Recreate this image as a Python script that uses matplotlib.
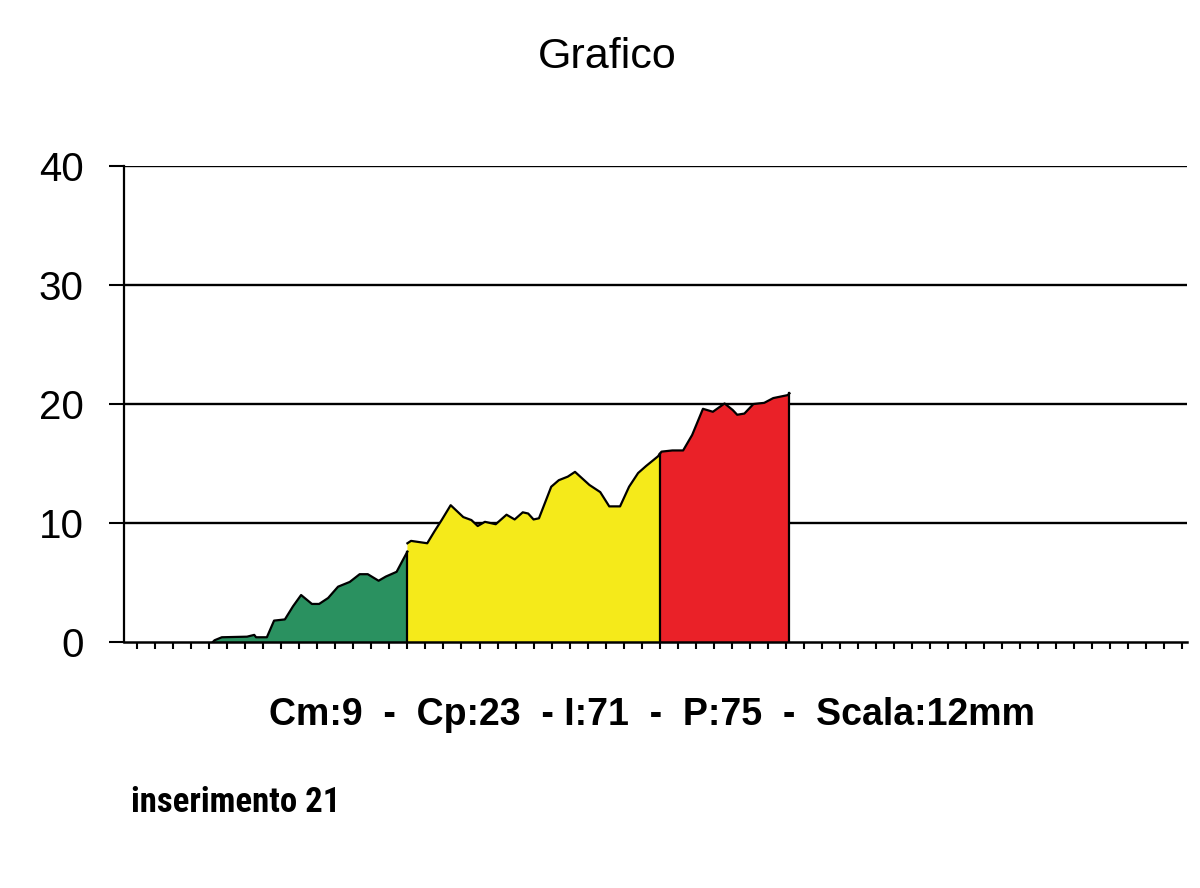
import matplotlib
matplotlib.use("Agg")
import matplotlib.pyplot as plt
import numpy as np

# profile, x in tick units, y in chart units
green_x = [4.2, 4.3, 4.7, 6.1, 6.5, 6.6, 7.2, 7.6, 8.2, 8.65, 9.1, 9.7, 10.1,
           10.6, 11.15, 11.8, 12.35, 12.8, 13.4, 13.8, 14.4, 14.75, 15.0]
green_y = [0.0, 0.15, 0.4, 0.45, 0.6, 0.4, 0.4, 1.8, 1.9, 3.0, 3.95, 3.2, 3.2,
           3.7, 4.65, 5.05, 5.7, 5.7, 5.15, 5.5, 5.9, 6.9, 7.6]

yellow_x = [15.0, 15.2, 16.1, 16.5, 16.9, 17.4, 18.1, 18.55, 18.9, 19.3, 19.9,
            20.5, 20.95, 21.4, 21.7, 22.0, 22.3, 22.98, 23.4, 23.9, 24.3, 25.1,
            25.7, 26.2, 26.8, 27.3, 27.8, 28.25, 28.9, 29.0]
yellow_y = [8.3, 8.5, 8.3, 9.3, 10.25, 11.5, 10.5, 10.25, 9.75, 10.1, 9.9,
            10.7, 10.3, 10.9, 10.8, 10.3, 10.4, 13.05, 13.6, 13.9, 14.3, 13.2,
            12.6, 11.4, 11.4, 13.05, 14.2, 14.8, 15.6, 15.8]

red_x = [29.0, 29.1, 29.7, 30.3, 30.8, 31.4, 31.95, 32.6, 33.05, 33.3, 33.7,
         34.2, 34.8, 35.3, 36.1, 36.2]
red_y = [15.8, 16.0, 16.1, 16.1, 17.4, 19.6, 19.35, 20.05, 19.5, 19.1, 19.2,
         20.0, 20.1, 20.5, 20.75, 20.9]

y_ticks = [0, 10, 20, 30, 40]
n_xticks = 59

title = "Grafico"
info = "Cm:9  -  Cp:23  - I:71  -  P:75  -  Scala:12mm"
note = "inserimento 21"

plt.rcParams["font.family"] = ["Liberation Sans", "DejaVu Sans"]

fig = plt.figure(figsize=(12, 8.88), dpi=100)
ax = fig.add_axes([0.1033, 0.277, 0.8857, 0.536])

segments = [(green_x, green_y, "#2a9160"),
            (yellow_x, yellow_y, "#f5ea1a"),
            (red_x, red_y, "#ea2128")]
for xs, ys, col in segments:
    ax.fill_between(xs, 0, ys, facecolor=col, edgecolor="none", zorder=3)
    ax.plot(xs, ys, color="black", linewidth=1.6, zorder=4)
    ax.plot([xs[-1], xs[-1]], [0, ys[-1]], color="black", linewidth=1.6, zorder=4)

for y in y_ticks[1:]:
    ax.axhline(y, color="black", linewidth=1.7, zorder=1)

ax.set_xlim(-0.73, 58.25)
ax.set_ylim(0, 40)
ax.set_yticks(y_ticks)
ax.set_xticks(np.arange(n_xticks))
ax.set_xticklabels([])
ax.tick_params(axis="y", direction="out", length=11, width=1.5, pad=18,
               labelsize=29)
ax.tick_params(axis="x", direction="out", length=5, width=1.5)
for s in ["top", "right"]:
    ax.spines[s].set_visible(False)
ax.spines["left"].set_linewidth(1.6)
ax.spines["bottom"].set_linewidth(1.8)
ax.spines["bottom"].set_zorder(5)

fig.text(0.506, 0.936, title, ha="center", va="center", fontsize=31)
fig.text(0.543, 0.195, info, ha="center", va="center", fontsize=27,
         weight="bold")
fig.text(0.109, 0.096, note, ha="left", va="center", fontsize=25,
         weight="bold",
         family=["Liberation Sans Narrow", "Roboto Condensed", "Roboto",
                 "Liberation Sans"])

fig.savefig("out.png", dpi=100, facecolor="white")
